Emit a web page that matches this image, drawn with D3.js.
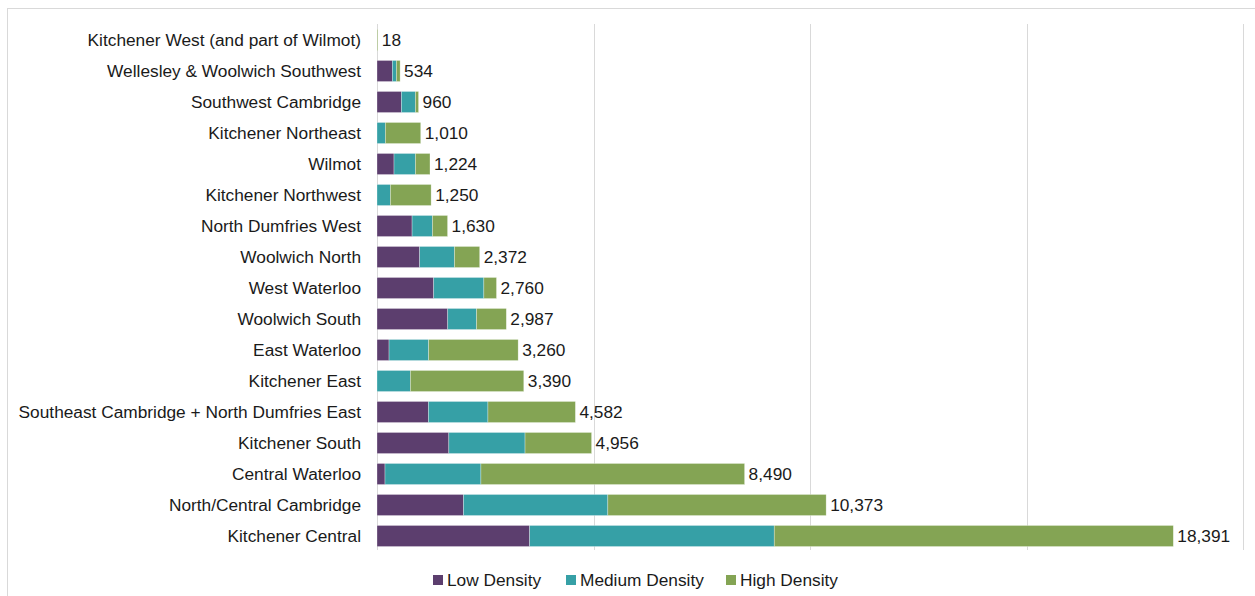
<!DOCTYPE html>
<html>
<head>
<meta charset="utf-8">
<script src="https://cdn.jsdelivr.net/npm/d3@7"></script>
<style>
  html, body { margin: 0; padding: 0; background: #fff; }
  svg { display: block; font-family: "Liberation Sans", Arial, sans-serif; }
</style>
</head>
<body>
<svg id="chart" width="1255" height="596"></svg>
<script>
const categories = [
  "Kitchener West (and part of Wilmot)",
  "Wellesley & Woolwich Southwest",
  "Southwest Cambridge",
  "Kitchener Northeast",
  "Wilmot",
  "Kitchener Northwest",
  "North Dumfries West",
  "Woolwich North",
  "West Waterloo",
  "Woolwich South",
  "East Waterloo",
  "Kitchener East",
  "Southeast Cambridge + North Dumfries East",
  "Kitchener South",
  "Central Waterloo",
  "North/Central Cambridge",
  "Kitchener Central"
];
const lowDensity    = [0, 354, 563, 0, 393, 0, 810, 986, 1310, 1634, 278, 0, 1188, 1659, 185, 1998, 3526];
const mediumDensity = [0, 93, 324, 193, 494, 309, 470, 803, 1158, 665, 916, 771, 1374, 1760, 2215, 3333, 5648];
const highDensity   = [18, 87, 73, 817, 337, 941, 350, 583, 292, 688, 2066, 2619, 2020, 1537, 6090, 5042, 9217];
const totals        = [18, 534, 960, 1010, 1224, 1250, 1630, 2372, 2760, 2987, 3260, 3390, 4582, 4956, 8490, 10373, 18391];
const seriesNames = ["Low Density", "Medium Density", "High Density"];
const xTicks = [0, 5000, 10000, 15000, 20000];

const colors = ["#5C3E6E", "#36A0A6", "#84A454"];
const FS = 17.3;
const svg = d3.select("#chart");

// chart border
svg.append("rect").attr("x", 7.5).attr("y", 8.5).attr("width", 1260).attr("height", 600)
  .attr("fill", "none").attr("stroke", "#d9d9d9").attr("stroke-width", 1);

const x = d3.scaleLinear().domain([0, 20000]).range([377, 1243]);
const y = d3.scaleBand().domain(categories).range([24.5, 551.5]).paddingInner(0.32).paddingOuter(0.16);

// gridlines
svg.append("g").selectAll("line").data(xTicks).join("line")
  .attr("x1", d => Math.round(x(d)) + 0.5).attr("x2", d => Math.round(x(d)) + 0.5)
  .attr("y1", 24).attr("y2", 550)
  .attr("stroke", "#d9d9d9").attr("stroke-width", 1);

const rows = categories.map((c, i) => ({
  cat: c, "Low Density": lowDensity[i], "Medium Density": mediumDensity[i], "High Density": highDensity[i], total: totals[i]
}));
const stack = d3.stack().keys(seriesNames)(rows);

svg.append("g").selectAll("g").data(stack).join("g")
  .attr("fill", (d, i) => colors[i])
  .selectAll("rect").data(d => d).join("rect")
  .attr("x", d => x(d[0]))
  .attr("y", d => y(d.data.cat))
  .attr("width", d => Math.max(0, x(d[1]) - x(d[0])))
  .attr("height", y.bandwidth())
  .attr("stroke", "#ffffff").attr("stroke-opacity", 0.5).attr("stroke-width", 0.6);

// category axis (labels only)
const yAxis = d3.axisLeft(y).tickSize(0).tickPadding(16);
const ga = svg.append("g").attr("transform", "translate(377,0)").call(yAxis);
ga.select(".domain").remove();
ga.selectAll("text").attr("font-size", FS).attr("fill", "#1a1a1a")
  .attr("font-family", "'Liberation Sans', Arial, sans-serif");

// total labels
const fmt = d3.format(",");
svg.append("g").selectAll("text").data(rows).join("text")
  .attr("x", d => x(d.total) + 4)
  .attr("y", d => y(d.cat) + y.bandwidth() / 2)
  .attr("dy", "0.35em")
  .attr("font-size", FS).attr("fill", "#1a1a1a")
  .text(d => fmt(d.total));

// legend
const legendX = [433, 566, 726];
const lg = svg.append("g").selectAll("g").data(seriesNames).join("g")
  .attr("transform", (d, i) => `translate(${legendX[i]},580)`);
lg.append("rect").attr("x", 0).attr("y", -5).attr("width", 10).attr("height", 10)
  .attr("fill", (d, i) => colors[i]);
lg.append("text").attr("x", 14).attr("y", 0).attr("dy", "0.35em")
  .attr("font-size", FS).attr("fill", "#1a1a1a").text(d => d);
</script>
</body>
</html>
